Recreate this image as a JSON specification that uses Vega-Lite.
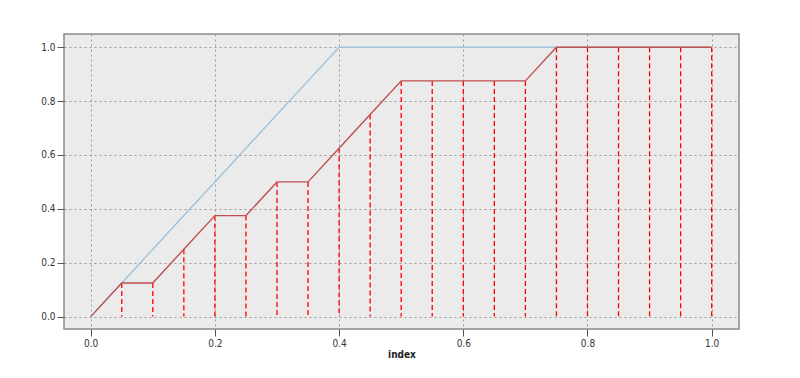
{
  "$schema": "https://vega.github.io/schema/vega-lite/v6.json",
  "autosize": "none",
  "padding": {"left": 64, "top": 34, "right": 61, "bottom": 49},
  "width": 675,
  "height": 295,
  "background": "white",
  "config": {
    "view": {"fill": "#EBEBEB", "stroke": "#8a8a8a", "strokeWidth": 1.5},
    "axis": {
      "domain": false,
      "grid": true,
      "gridColor": "#9a9a9a",
      "gridDash": [2, 3],
      "gridWidth": 1,
      "tickColor": "#555555",
      "tickSize": 7,
      "labelFont": "DejaVu Sans Condensed, DejaVu Sans",
      "labelFontSize": 10,
      "labelColor": "#333333",
      "titleFont": "DejaVu Sans Condensed, DejaVu Sans",
      "titleFontSize": 10,
      "titleFontWeight": "bold",
      "titleColor": "#222222"
    }
  },
  "data": {
    "values": [
      {"index": 0.0, "red": 0.0, "blue": 0.0},
      {"index": 0.05, "red": 0.125, "blue": 0.125},
      {"index": 0.1, "red": 0.125, "blue": 0.25},
      {"index": 0.15, "red": 0.25, "blue": 0.375},
      {"index": 0.2, "red": 0.375, "blue": 0.5},
      {"index": 0.25, "red": 0.375, "blue": 0.625},
      {"index": 0.3, "red": 0.5, "blue": 0.75},
      {"index": 0.35, "red": 0.5, "blue": 0.875},
      {"index": 0.4, "red": 0.625, "blue": 1.0},
      {"index": 0.45, "red": 0.75, "blue": 1.0},
      {"index": 0.5, "red": 0.875, "blue": 1.0},
      {"index": 0.55, "red": 0.875, "blue": 1.0},
      {"index": 0.6, "red": 0.875, "blue": 1.0},
      {"index": 0.65, "red": 0.875, "blue": 1.0},
      {"index": 0.7, "red": 0.875, "blue": 1.0},
      {"index": 0.75, "red": 1.0, "blue": 1.0},
      {"index": 0.8, "red": 1.0, "blue": 1.0},
      {"index": 0.85, "red": 1.0, "blue": 1.0},
      {"index": 0.9, "red": 1.0, "blue": 1.0},
      {"index": 0.95, "red": 1.0, "blue": 1.0},
      {"index": 1.0, "red": 1.0, "blue": 1.0}
    ]
  },
  "layer": [
    {
      "transform": [{"filter": "datum.index > 0"}],
      "mark": {"type": "rule", "color": "#ff0000", "strokeDash": [5, 3], "strokeWidth": 1.3},
      "encoding": {
        "x": {
          "field": "index", "type": "quantitative", "title": "index",
          "scale": {"domain": [-0.043, 1.044], "nice": false, "zero": false},
          "axis": {"values": [0, 0.2, 0.4, 0.6, 0.8, 1.0], "format": ".1f", "labelPadding": 2, "titlePadding": 1}
        },
        "y": {"field": "red", "type": "quantitative",
          "scale": {"domain": [-0.046, 1.049], "nice": false, "zero": false},
          "axis": {"values": [0, 0.2, 0.4, 0.6, 0.8, 1.0], "format": ".1f", "title": null, "labelPadding": 2}},
        "y2": {"datum": 0}
      }
    },
    {
      "mark": {"type": "line", "color": "#9cc3da", "strokeWidth": 1.4},
      "encoding": {
        "x": {"field": "index", "type": "quantitative"},
        "y": {"field": "blue", "type": "quantitative"}
      }
    },
    {
      "mark": {"type": "line", "color": "#c05050", "strokeWidth": 1.4},
      "encoding": {
        "x": {"field": "index", "type": "quantitative"},
        "y": {"field": "red", "type": "quantitative"}
      }
    }
  ]
}
